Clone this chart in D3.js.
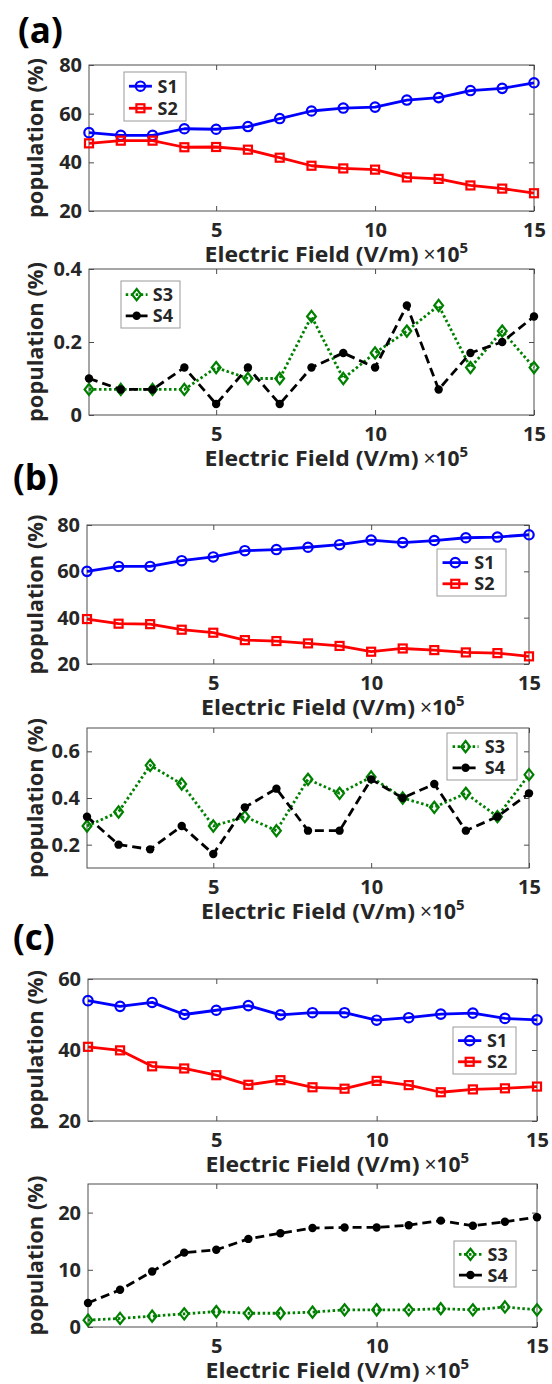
<!DOCTYPE html>
<html><head><meta charset="utf-8">
<script src="https://cdn.jsdelivr.net/npm/d3@7"></script>
<style>
body{margin:0;background:#fff;}
svg{display:block;}
text{font-family:"Open Sans","Noto Sans",sans-serif;fill:#262626;}
</style>
</head><body>
<svg id="chart" width="552" height="1384"></svg>
<script>
// ---------- data ----------
const fieldValues = [1,2,3,4,5,6,7,8,9,10,11,12,13,14,15];
const xTickValues = [5,10,15];
const seriesNames = ["S1","S2","S3","S4"];

const a_S1 = [52.2,51.1,51.1,53.8,53.6,54.7,58.0,61.1,62.3,62.7,65.6,66.6,69.5,70.4,72.7];
const a_S2 = [47.8,48.9,48.9,46.2,46.3,45.2,41.9,38.6,37.5,37.0,33.8,33.2,30.5,29.2,27.3];
const a_S3 = [0.07,0.07,0.07,0.07,0.13,0.10,0.10,0.27,0.10,0.17,0.23,0.30,0.13,0.23,0.13];
const a_S4 = [0.10,0.07,0.07,0.13,0.03,0.13,0.03,0.13,0.17,0.13,0.30,0.07,0.17,0.20,0.27];

const b_S1 = [60.0,62.1,62.1,64.6,66.2,68.9,69.4,70.4,71.5,73.5,72.4,73.3,74.5,74.8,75.8];
const b_S2 = [39.4,37.4,37.2,34.8,33.5,30.3,29.9,28.9,27.8,25.3,26.7,26.0,25.0,24.7,23.3];
const b_S3 = [0.28,0.34,0.54,0.46,0.28,0.32,0.26,0.48,0.42,0.49,0.40,0.36,0.42,0.32,0.50];
const b_S4 = [0.32,0.20,0.18,0.28,0.16,0.36,0.44,0.26,0.26,0.48,0.40,0.46,0.26,0.32,0.42];

const c_S1 = [53.9,52.3,53.4,50.0,51.2,52.5,49.9,50.5,50.5,48.4,49.1,50.1,50.4,48.9,48.5];
const c_S2 = [40.9,39.9,35.4,34.8,32.9,30.2,31.5,29.5,29.1,31.3,30.1,28.1,28.9,29.2,29.7];
const c_S3 = [1.2,1.5,1.9,2.3,2.7,2.4,2.4,2.6,3.0,3.0,3.0,3.2,3.0,3.5,3.0];
const c_S4 = [4.2,6.5,9.7,13.0,13.5,15.4,16.4,17.3,17.4,17.4,17.8,18.6,17.7,18.4,19.2];

const yTicksMain = [20,40,60,80];
const yTicksA2 = [0,0.2,0.4];
const yTicksB2 = [0.2,0.4,0.6];
const yTicksC1 = [20,40,60];
const yTicksC2 = [0,10,20];

const panelLabels = ["(a)","(b)","(c)"];
const xLabelText = "Electric Field (V/m)";
const yLabelText = "population (%)";

// ---------- styles ----------
const styles = {
  S1:{color:"#0000ff", dash:null, marker:"circle"},
  S2:{color:"#ff0000", dash:null, marker:"square"},
  S3:{color:"#008000", dash:"2.5,2.5", marker:"diamond"},
  S4:{color:"#000000", dash:"9,5", marker:"dot"}
};

const panels = [
  {box:[89,534,65,211], dom:[20,80], ticks:yTicksMain, fmt:d=>d, series:[["S1",a_S1],["S2",a_S2]], leg:[124,72,62,49]},
  {box:[89,534,269,415], dom:[0,0.4], ticks:yTicksA2, fmt:d=>d===0?"0":d.toFixed(1), series:[["S3",a_S3],["S4",a_S4]], leg:[121,281,59,47]},
  {box:[87,529,525,664], dom:[20,80], ticks:yTicksMain, fmt:d=>d, series:[["S1",b_S1],["S2",b_S2]], leg:[437,549,69,47]},
  {box:[87,529,728,868], dom:[0.1,0.7], ticks:yTicksB2, fmt:d=>d.toFixed(1), series:[["S3",b_S3],["S4",b_S4]], leg:[447,733,70,47]},
  {box:[88,537,979,1121], dom:[20,60], ticks:yTicksC1, fmt:d=>d, series:[["S1",c_S1],["S2",c_S2]], leg:[453,1027,63,47]},
  {box:[88,537,1184,1327], dom:[0,25], ticks:yTicksC2, fmt:d=>d, series:[["S3",c_S3],["S4",c_S4]], leg:[454,1241,62,46]}
];
const labelPos = [[18,43],[13,490],[13,950]];

const svg = d3.select("#chart");
const axisColor = "#4d4d4d";

panelLabels.forEach((t,i)=>{
  svg.append("text").attr("x",labelPos[i][0]).attr("y",labelPos[i][1])
    .attr("font-size",35).attr("font-weight",700).style("fill","#000").text(t);
});

function drawMarker(g, type, color, x, y){
  if(type==="circle"){
    g.append("circle").attr("cx",x).attr("cy",y).attr("r",4.7)
      .attr("fill","none").attr("stroke",color).attr("stroke-width",2.2);
  } else if(type==="square"){
    g.append("rect").attr("x",x-4).attr("y",y-4).attr("width",8).attr("height",8)
      .attr("fill","none").attr("stroke",color).attr("stroke-width",2.2);
  } else if(type==="diamond"){
    g.append("path").attr("d",`M${x},${y-5.6}L${x+4.4},${y}L${x},${y+5.6}L${x-4.4},${y}Z`)
      .attr("fill","none").attr("stroke",color).attr("stroke-width",2.2);
  } else {
    g.append("circle").attr("cx",x).attr("cy",y).attr("r",4.2).attr("fill",color);
  }
}

panels.forEach(p=>{
  const [x0,x1,y0,y1] = p.box;
  const x = d3.scaleLinear().domain([1,15]).range([x0,x1]);
  const y = d3.scaleLinear().domain(p.dom).range([y1,y0]);
  const g = svg.append("g");

  const styleAxis = sel=>{
    sel.select(".domain").remove();
    sel.selectAll(".tick line").attr("stroke",axisColor).attr("stroke-width",1);
    sel.selectAll(".tick text").attr("font-size",20).attr("font-weight",700).style("fill","#262626");
  };
  g.append("g").attr("transform",`translate(0,${y1})`)
    .call(d3.axisBottom(x).tickValues(xTickValues).tickSizeInner(-5).tickSizeOuter(0).tickPadding(11.3))
    .call(styleAxis);
  g.append("g").attr("transform",`translate(0,${y0})`)
    .call(d3.axisTop(x).tickValues(xTickValues).tickSizeInner(-5).tickSizeOuter(0).tickFormat(""))
    .call(styleAxis);
  g.append("g").attr("transform",`translate(${x0},0)`)
    .call(d3.axisLeft(y).tickValues(p.ticks).tickFormat(p.fmt).tickSizeInner(-5).tickSizeOuter(0).tickPadding(7))
    .call(styleAxis);
  g.append("g").attr("transform",`translate(${x1},0)`)
    .call(d3.axisRight(y).tickValues(p.ticks).tickSizeInner(-5).tickSizeOuter(0).tickFormat(""))
    .call(styleAxis);
  g.selectAll(".tick text").attr("font-family",null);

  g.append("rect").attr("x",x0).attr("y",y0).attr("width",x1-x0).attr("height",y1-y0)
    .attr("fill","none").attr("stroke",axisColor).attr("stroke-width",1);

  p.series.forEach(([name,vals])=>{
    const st = styles[name];
    const line = d3.line().x((d,i)=>x(fieldValues[i])).y(d=>y(d));
    g.append("path").datum(vals).attr("d",line).attr("fill","none")
      .attr("stroke",st.color).attr("stroke-width",2.8)
      .attr("stroke-dasharray",st.dash).attr("stroke-linejoin","round");
    vals.forEach((v,i)=>drawMarker(g,st.marker,st.color,x(fieldValues[i]),y(v)));
  });

  const cx = (x0+x1)/2;
  g.append("text").attr("x",cx).attr("y",y1+51).attr("text-anchor","middle")
    .attr("font-size",21).attr("font-weight",700)
    .attr("textLength",214).attr("lengthAdjust","spacingAndGlyphs").text(xLabelText);
  const ex = g.append("text").attr("x",cx+112).attr("y",y1+51).attr("font-size",21).attr("font-weight",700);
  ex.append("tspan").attr("font-weight",400).text("×");
  ex.append("tspan").text("10");
  ex.append("tspan").attr("font-size",15).attr("dy",-9).text("5");

  g.append("text").attr("transform",`translate(43,${(y0+y1)/2}) rotate(-90)`)
    .attr("text-anchor","middle").attr("font-size",22).attr("font-weight",700)
    .attr("textLength",160).attr("lengthAdjust","spacingAndGlyphs").text(yLabelText);

  const [lx,ly,lw,lh] = p.leg;
  const lg = g.append("g");
  lg.append("rect").attr("x",lx).attr("y",ly).attr("width",lw).attr("height",lh)
    .attr("fill","#fff").attr("stroke","#9a9a9a").attr("stroke-width",1);
  p.series.forEach(([name],k)=>{
    const st = styles[name];
    const ry = ly + (k===0?0.29:0.74)*lh;
    const la = lx+0.08*lw, lb = lx+0.45*lw;
    lg.append("line").attr("x1",la).attr("x2",lb).attr("y1",ry).attr("y2",ry)
      .attr("stroke",st.color).attr("stroke-width",2.8).attr("stroke-dasharray",st.dash);
    drawMarker(lg,st.marker,st.color,(la+lb)/2,ry);
    lg.append("text").attr("x",lx+0.54*lw).attr("y",ry).attr("dy","0.36em")
      .attr("font-size",18).attr("font-weight",700).text(name);
  });
});
</script>
</body></html>
